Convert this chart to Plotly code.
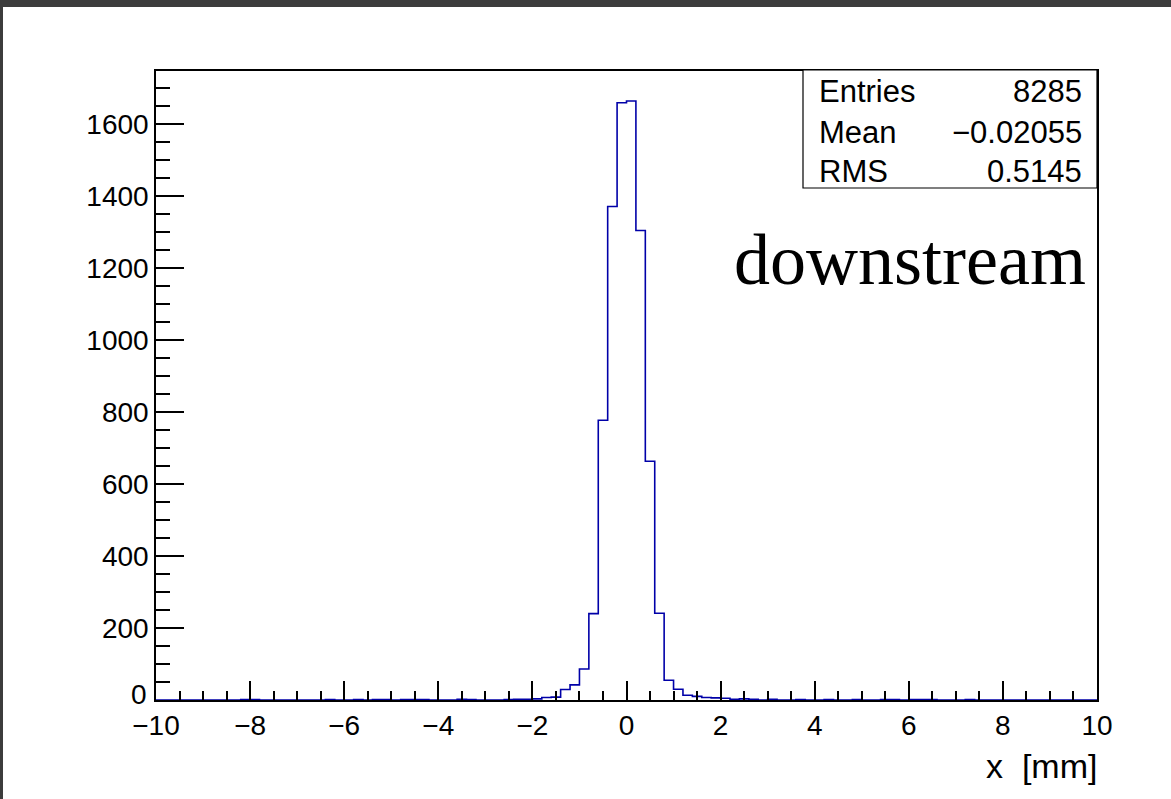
import plotly.graph_objects as go

# ---- data ----
x_low = -10.0
bin_width = 0.2
counts = [0] * 100
nonzero = {
    9: 1, 10: 1, 18: 1, 21: 1, 23: 1, 24: 1, 26: 1, 27: 1, 28: 1,
    32: 2, 33: 1, 37: 1, 38: 2, 39: 2, 40: 3, 41: 7, 42: 8, 43: 29,
    44: 42, 45: 86, 46: 240, 47: 777, 48: 1371, 49: 1659, 50: 1664,
    51: 1304, 52: 663, 53: 241, 54: 55, 55: 30, 56: 13, 57: 10,
    58: 7, 59: 6, 60: 5, 61: 2, 62: 3, 63: 2, 65: 2, 68: 1, 71: 1,
    74: 1, 77: 1, 78: 1, 80: 1, 81: 1, 82: 1, 86: 1,
}
for k, v in nonzero.items():
    counts[k] = v

stat_labels = ["Entries", "Mean", "RMS"]
stat_values = ["8285", "\u22120.02055", "0.5145"]
x_ticks = [-10, -8, -6, -4, -2, 0, 2, 4, 6, 8, 10]
y_ticks = [0, 200, 400, 600, 800, 1000, 1200, 1400, 1600]
label_text = "downstream"
x_title = "x\u00a0\u00a0[mm]"

# ---- geometry ----
W, H = 1171, 799
L, R, T, B = 156, 1097, 71, 700
pw, ph = R - L, B - T


def px(x):
    return (x - L) / pw


def py(y):
    return (B - y) / ph


edges = [x_low + bin_width * i for i in range(len(counts) + 1)]
ys = counts + [counts[-1]]
ymax = max(counts) * 1.05

line_col = "#0000a8"
fig = go.Figure()
fig.add_trace(go.Scatter(
    x=edges, y=ys, mode="lines", line=dict(shape="hv", color=line_col, width=1.6),
    hoverinfo="skip", showlegend=False,
))

tickfont = dict(family="Liberation Sans, Arial, sans-serif", size=28, color="black")
fig.update_layout(
    width=W, height=H,
    margin=dict(l=L, r=W - R, t=T, b=H - B),
    paper_bgcolor="white", plot_bgcolor="white",
    showlegend=False,
    xaxis=dict(
        range=[-10, 10], tickvals=x_ticks,
        ticktext=[("\u2212" + str(-v)) if v < 0 else str(v) for v in x_ticks],
        ticks="inside", ticklen=19, tickwidth=1.5, tickcolor="black",
        minor=dict(dtick=0.5, tick0=-10, ticks="inside", ticklen=9.5, tickwidth=1.5,
                   tickcolor="black", showgrid=False),
        showline=True, linecolor="black", linewidth=1.5, mirror=True,
        showgrid=False, zeroline=False, tickfont=tickfont,
    ),
    yaxis=dict(
        range=[0, ymax], tickvals=y_ticks,
        ticktext=[("" if v == 0 else str(v)) for v in y_ticks],
        ticks="inside", ticklen=28, tickwidth=1.5, tickcolor="black",
        minor=dict(dtick=50, tick0=0, ticks="inside", ticklen=14, tickwidth=1.5,
                   tickcolor="black", showgrid=False),
        showline=True, linecolor="black", linewidth=1.5, mirror=True,
        showgrid=False, zeroline=False, tickfont=tickfont,
    ),
)

# ROOT draws the "0" label of the y axis slightly raised
fig.add_annotation(xref="paper", yref="paper", x=px(149), y=py(694), text=str(y_ticks[0]),
                   showarrow=False, xanchor="right", yanchor="middle", font=tickfont)

shapes = []
dark = "#3c3c3c"
shapes.append(dict(type="rect", xref="paper", yref="paper", x0=px(0), x1=px(W), y0=py(7), y1=py(0),
                   fillcolor=dark, line=dict(width=0), layer="above"))
shapes.append(dict(type="rect", xref="paper", yref="paper", x0=px(0), x1=px(3), y0=py(H), y1=py(0),
                   fillcolor=dark, line=dict(width=0), layer="above"))
shapes.append(dict(type="rect", xref="paper", yref="paper", x0=px(803), x1=px(1097), y0=py(188), y1=py(70),
                   fillcolor="white", line=dict(color="black", width=1.2), layer="above"))
fig.update_layout(shapes=shapes)

statfont = dict(family="Liberation Sans, Arial, sans-serif", size=31, color="black")
row_y = [92, 132, 171]
for lab, val, yy in zip(stat_labels, stat_values, row_y):
    fig.add_annotation(xref="paper", yref="paper", x=px(817), y=py(yy), text=lab, showarrow=False,
                       xanchor="left", yanchor="middle", font=statfont)
    fig.add_annotation(xref="paper", yref="paper", x=px(1084), y=py(yy), text=val, showarrow=False,
                       xanchor="right", yanchor="middle", font=statfont)

fig.add_annotation(xref="paper", yref="paper", x=px(1088), y=py(260), text=label_text, showarrow=False,
                   xanchor="right", yanchor="middle",
                   font=dict(family="Liberation Serif, Times New Roman, serif", size=72, color="black"))

fig.add_annotation(xref="paper", yref="paper", x=px(1099), y=py(766), text=x_title, showarrow=False,
                   xanchor="right", yanchor="middle",
                   font=dict(family="Liberation Sans, Arial, sans-serif", size=34, color="black"))

fig.write_html("out.html")
